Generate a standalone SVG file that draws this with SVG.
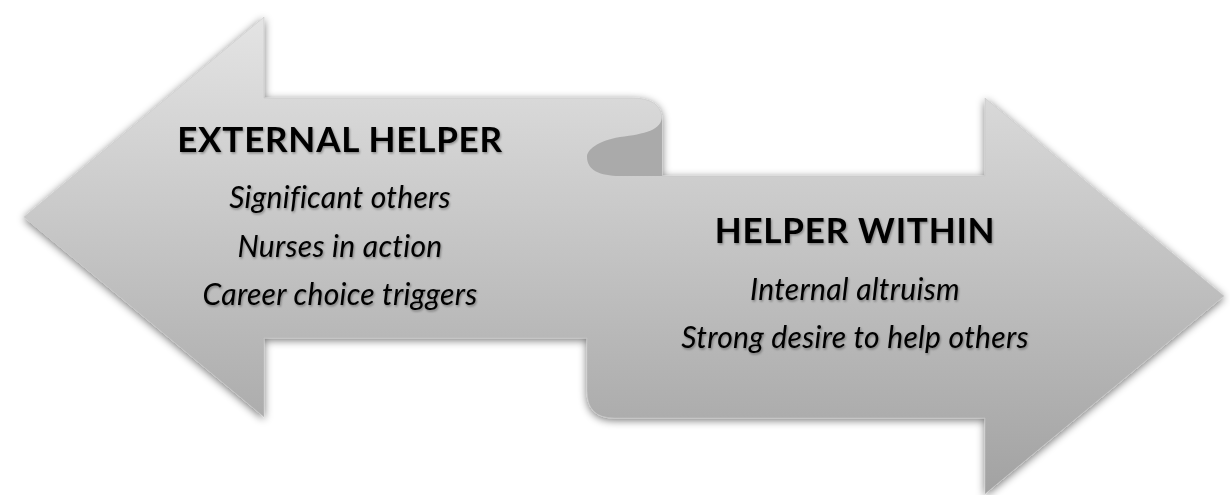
<svg xmlns="http://www.w3.org/2000/svg" width="1230" height="495" viewBox="0 0 1230 495">
  <style>
    .title { font-family: Lato, "Liberation Sans", sans-serif; font-weight: bold; font-size: 35px; letter-spacing: 0.8px; fill: #000; text-anchor: middle; }
    .item { font-family: Lato, "Liberation Sans", sans-serif; font-style: italic; font-size: 30px; letter-spacing: 0.3px; fill: #000; text-anchor: middle; }
  </style>
  <defs>
    <linearGradient id="g" gradientUnits="userSpaceOnUse" x1="0" y1="17" x2="0" y2="494">
      <stop offset="0" stop-color="#e4e4e4"/>
      <stop offset="1" stop-color="#a2a2a2"/>
    </linearGradient>
    <filter id="sh" x="-5%" y="-10%" width="110%" height="120%">
      <feGaussianBlur in="SourceAlpha" stdDeviation="4"/>
      <feOffset dx="0" dy="2" result="b"/>
      <feComponentTransfer><feFuncA type="linear" slope="0.55"/></feComponentTransfer>
      <feMerge><feMergeNode/><feMergeNode in="SourceGraphic"/></feMerge>
    </filter>
    <filter id="ts" x="-10%" y="-30%" width="120%" height="160%">
      <feDropShadow dx="1" dy="1.5" stdDeviation="1.2" flood-color="#000" flood-opacity="0.35"/>
    </filter>
  </defs>

  <g id="arrows">
    <path filter="url(#sh)" fill="url(#g)" stroke="#c8c8c8" stroke-width="0.6"
      d="M24,217 L264,17 L264,98 L632,98 Q662,98 662,120 L662,176 L985,176 L985,98 L1224,296 L985,494 L985,418 L614,418 Q587,418 587,391 L587,338 L264,338 L264,417 Z"/>
    <path id="curl" fill="#aaaaaa"
      d="M662,116 C662,130 645,134 620,137 C597,141 587,150 587,157 C587,170 600,176 620,176 L662,176 Z"/>
  </g>

  <g id="external-helper" filter="url(#ts)">
    <text class="title" x="340" y="152">EXTERNAL HELPER</text>
    <text class="item" x="340" y="208">Significant others</text>
    <text class="item" x="340" y="257">Nurses in action</text>
    <text class="item" x="340" y="305">Career choice triggers</text>
  </g>

  <g id="helper-within" filter="url(#ts)">
    <text class="title" x="855" y="243">HELPER WITHIN</text>
    <text class="item" x="855" y="300">Internal altruism</text>
    <text class="item" x="855" y="348">Strong desire to help others</text>
  </g>
</svg>
